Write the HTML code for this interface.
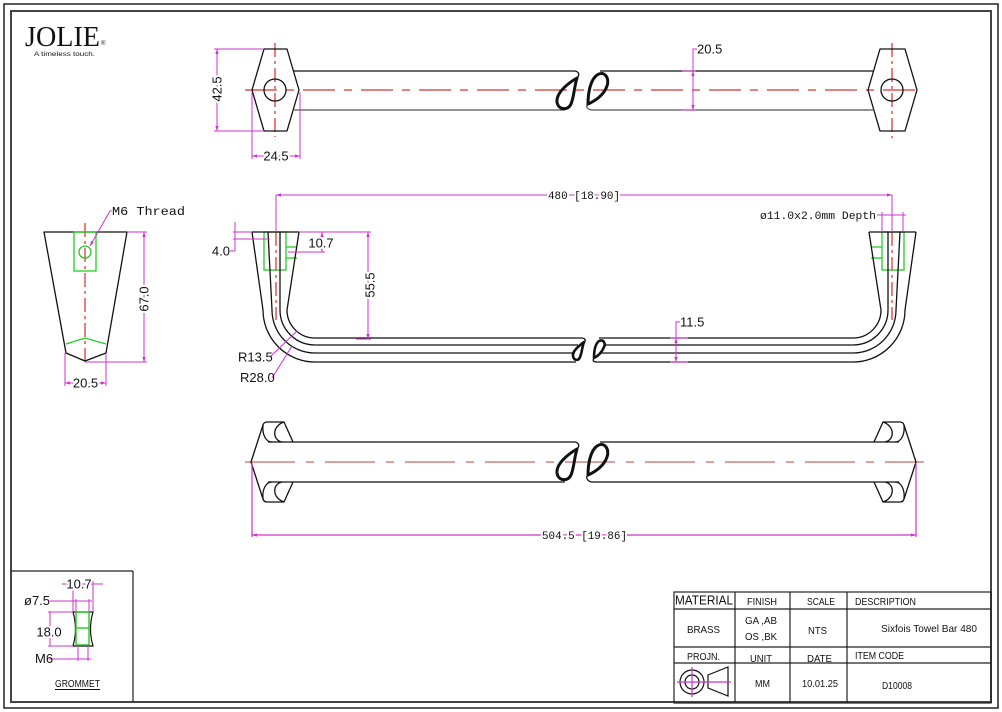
<!DOCTYPE html>
<html><head><meta charset="utf-8">
<style>
html,body{margin:0;padding:0;background:#fff;}
svg{display:block}
text{font-family:"Liberation Sans",sans-serif;fill:#111;}
.d{font-size:13px;stroke:#fff;stroke-width:4;paint-order:stroke;stroke-linejoin:round;}
.m{font-family:"Liberation Mono",monospace;font-size:11px;stroke:#fff;stroke-width:4;paint-order:stroke;}
.t{font-size:10.5px;}
</style></head><body>
<svg width="1002" height="712" viewBox="0 0 1002 712" xmlns="http://www.w3.org/2000/svg">
<defs>
<marker id="a" viewBox="0 0 6 6" refX="6" refY="3" markerWidth="5" markerHeight="5" orient="auto-start-reverse" markerUnits="userSpaceOnUse">
<path d="M0,1 L6,3 L0,5 Z" fill="#c3c"/>
</marker>
</defs>
<rect width="1002" height="712" fill="#fff"/>

<!-- frame -->
<rect x="4" y="4" width="994" height="704" fill="none" stroke="#222" stroke-width="1.5"/>
<rect x="11" y="11" width="980" height="691" fill="none" stroke="#444" stroke-width="2"/>

<!-- logo -->
<text x="25" y="46" font-family="Liberation Serif, serif" style="font-family:'Liberation Serif',serif" font-size="28" fill="#333" textLength="75" lengthAdjust="spacingAndGlyphs">JOLIE</text>
<text x="101" y="45" font-size="6" fill="#333">®</text>
<text x="34" y="56" font-size="6.5" fill="#444" textLength="61" lengthAdjust="spacingAndGlyphs">A timeless touch.</text>

<!-- ================= TOP VIEW ================= -->
<g fill="none" stroke="#cc0000" stroke-width="1">
<line x1="245" y1="90" x2="923" y2="90" stroke-dasharray="32 9 8 9"/>
<line x1="275" y1="43" x2="275" y2="137" stroke-dasharray="14 4 3 4"/>
<line x1="892" y1="43" x2="892" y2="138" stroke-dasharray="14 4 3 4"/>
</g>
<g fill="none" stroke="#111" stroke-width="1.3" stroke-linejoin="round">
<path d="M264,49 L287,49 L299,90 L287,131 L264,131 L252,90 Z"/>
<circle cx="275" cy="90" r="11"/>
<path d="M880,49 L905,49 L917,90 L905,131 L880,131 L868,90 Z"/>
<circle cx="892" cy="90" r="11"/>
<path d="M293,71 L574,71 C579,71 580,75 577,78"/>
<path d="M293,110 L565,110" stroke="#555"/>
<path d="M600,71 L874,71"/>
<path d="M588,104 C585,107 588,110 593,110 L874,110" stroke="#555"/>
</g>
<g fill="none" stroke="#111" stroke-width="3" stroke-linejoin="round">
<path d="M577,78 C570,82 556,92 557,102 C558,110 568,111 571,104 C574,97 574,88 577,78 Z"/>
<path d="M588,104 C588,94 590,80 597,75 C604,70 610,78 607,86 C604,95 595,101 588,104 Z"/>
</g>
<!-- top view dims -->
<g fill="none" stroke="#c3c" stroke-width="1">
<line x1="214" y1="49" x2="264" y2="49"/>
<line x1="214" y1="131" x2="264" y2="131"/>
<line x1="217" y1="49" x2="217" y2="131" marker-start="url(#a)" marker-end="url(#a)"/>
<line x1="252" y1="92" x2="252" y2="159"/>
<line x1="300" y1="92" x2="300" y2="159"/>
<line x1="252" y1="156" x2="300" y2="156" marker-start="url(#a)" marker-end="url(#a)"/>
<line x1="682" y1="71" x2="696" y2="71"/>
<line x1="682" y1="110" x2="696" y2="110"/>
<polyline points="697,49 693,49 693,71"/>
<line x1="693" y1="71" x2="693" y2="110" marker-start="url(#a)" marker-end="url(#a)"/>
</g>
<text class="d" transform="translate(221.5,89) rotate(-90)" text-anchor="middle">42.5</text>
<text class="d" x="276" y="160.5" text-anchor="middle">24.5</text>
<text class="d" x="697" y="53.5" font-size="12" style="stroke-width:0">20.5</text>

<!-- ================= SIDE VIEW ================= -->
<g id="brk">
<g fill="none" stroke="#cc0000" stroke-width="1">
<line x1="276" y1="232" x2="276" y2="320" stroke-dasharray="14 4 3 4"/>
</g>
<g fill="none" stroke="#22cc22" stroke-width="1.3">
<rect x="264" y="232" width="22" height="38"/>
<line x1="286" y1="247" x2="297" y2="247"/>
<line x1="286" y1="258" x2="297" y2="258"/>
</g>
<g fill="none" stroke="#111" stroke-width="1.3">
<line x1="252" y1="232" x2="299" y2="232"/>
<path d="M252,232 L263,310 A52,52 0 0 0 315,362"/>
<path d="M268,232 L272,310 A43,43 0 0 0 315,353"/>
<path d="M280,232 L280,310 A35,35 0 0 0 315,345"/>
<path d="M299,232 L287,310 A28,28 0 0 0 315,338"/>
</g>
</g>
<use href="#brk" transform="matrix(-1,0,0,1,1168,0)"/>
<g fill="none" stroke="#111" stroke-width="1.3">
<path d="M315,338 L581,338 C586,338 586,341 584,342"/>
<path d="M315,345 L578,345"/>
<path d="M315,353 L575,353"/>
<path d="M315,362 L576,362"/>
<path d="M599,338 L853,338"/>
<path d="M604,345 L853,345"/>
<path d="M601,353 L853,353"/>
<path d="M594,358 C592,361 594,362 597,362 L853,362"/>
</g>
<g fill="none" stroke="#111" stroke-width="2.6" stroke-linejoin="round">
<path d="M584,342 C580,345 572,351 573,356 C574,361 579,361 580,357 C582,353 582,347 584,342 Z"/>
<path d="M594,358 C594,352 595,344 599,341 C603,339 606,343 604,347 C602,352 598,356 594,358 Z"/>
</g>
<!-- side view dims -->
<g fill="none" stroke="#c3c" stroke-width="1">
<line x1="276" y1="195" x2="276" y2="232"/>
<line x1="892" y1="195" x2="892" y2="232"/>
<line x1="276" y1="195" x2="892" y2="195" marker-start="url(#a)" marker-end="url(#a)"/>
<line x1="877" y1="215" x2="906" y2="215"/>
<line x1="882" y1="212" x2="882" y2="232"/>
<line x1="903" y1="212" x2="903" y2="232"/>
<line x1="233" y1="232" x2="252" y2="232"/>
<line x1="233" y1="239" x2="270" y2="239"/>
<line x1="235" y1="222" x2="235" y2="251"/>
<line x1="230" y1="251" x2="235" y2="251"/>
<line x1="299" y1="232" x2="371" y2="232"/>
<line x1="288" y1="252" x2="325" y2="252"/>
<line x1="322" y1="232" x2="322" y2="252" marker-start="url(#a)" marker-end="url(#a)"/>
<line x1="356" y1="339" x2="371" y2="339"/>
<line x1="368" y1="232" x2="368" y2="339" marker-start="url(#a)" marker-end="url(#a)"/>
<polyline points="270,357 297,331"/>
<polyline points="272,378 292,346"/>
<line x1="670" y1="338" x2="688" y2="338"/>
<line x1="670" y1="362" x2="688" y2="362"/>
<polyline points="680,322 676,322 676,338"/>
<line x1="676" y1="338" x2="676" y2="362" marker-start="url(#a)" marker-end="url(#a)"/>
</g>
<text class="m" x="584" y="199" text-anchor="middle" textLength="72" lengthAdjust="spacingAndGlyphs">480 [18.90]</text>
<text class="m" x="760" y="219" textLength="116" lengthAdjust="spacingAndGlyphs" style="stroke-width:0">ø11.0x2.0mm Depth</text>
<text class="d" x="230" y="255.5" text-anchor="end" font-size="12" style="stroke-width:0">4.0</text>
<text class="d" x="321" y="247.5" text-anchor="middle" font-size="12">10.7</text>
<text class="d" transform="translate(374.5,285) rotate(-90)" text-anchor="middle">55.5</text>
<text class="d" x="238" y="361.5" font-size="12" style="stroke-width:0">R13.5</text>
<text class="d" x="240" y="382" font-size="12" style="stroke-width:0">R28.0</text>
<text class="d" x="680" y="326.5" font-size="12" style="stroke-width:0">11.5</text>

<!-- ================= LEFT SECTION ================= -->
<g fill="none" stroke="#cc0000" stroke-width="1">
<line x1="85" y1="223" x2="85" y2="361" stroke-dasharray="14 4 3 4"/>
</g>
<g fill="none" stroke="#111" stroke-width="1.3" stroke-linejoin="round">
<path d="M44,232 L127,232 L106,353 L85,361 L66,353 Z"/>
</g>
<g fill="none" stroke="#22cc22" stroke-width="1.3">
<rect x="74" y="232" width="22" height="39"/>
<circle cx="85" cy="252" r="6"/>
<polyline points="66,344 85,338 106,344"/>
</g>
<g fill="none" stroke="#c3c" stroke-width="1">
<polyline points="112,211 110,211 90,246" marker-end="url(#a)"/>
<line x1="127" y1="232" x2="147" y2="232"/>
<line x1="85" y1="362" x2="147" y2="362"/>
<line x1="144" y1="232" x2="144" y2="362" marker-start="url(#a)" marker-end="url(#a)"/>
<line x1="65" y1="353" x2="65" y2="386"/>
<line x1="106" y1="353" x2="106" y2="386"/>
<line x1="65" y1="383" x2="106" y2="383" marker-start="url(#a)" marker-end="url(#a)"/>
</g>
<text x="112" y="215" style="font-family:'Liberation Mono',monospace" font-size="12" textLength="73" lengthAdjust="spacingAndGlyphs">M6 Thread</text>
<text class="d" transform="translate(148.5,299) rotate(-90)" text-anchor="middle">67.0</text>
<text class="d" x="85.5" y="387.5" text-anchor="middle">20.5</text>

<!-- ================= BOTTOM VIEW ================= -->
<line x1="245" y1="462" x2="924" y2="462" stroke="#cc6666" stroke-width="1.2" stroke-dasharray="50 11 8 11"/>
<g id="cap" fill="none" stroke="#111" stroke-width="1.3" stroke-linejoin="round">
<path d="M251,462 L263,425 Q264,422 267,422 L284,422 L293,442"/>
<path d="M284,422 C272,426 272,440 282,442"/>
<path d="M263,425 C262,435 266,442 272,442"/>
<path d="M251,462 L263,499 Q264,502 267,502 L284,502 L293,482"/>
<path d="M284,502 C272,498 272,484 282,482"/>
<path d="M263,499 C262,489 266,482 272,482"/>
</g>
<use href="#cap" transform="matrix(-1,0,0,1,1167,0)"/>
<g transform="translate(0,371)">
<g fill="none" stroke="#111" stroke-width="1.3">
<path d="M268,71 L574,71 C579,71 580,75 577,78"/>
<path d="M268,111 L565,111"/>
<path d="M600,71 L899,71"/>
<path d="M588,104 C585,107 588,111 593,111 L899,111"/>
</g>
<g fill="none" stroke="#111" stroke-width="3" stroke-linejoin="round">
<path d="M577,78 C570,82 556,92 557,102 C558,110 568,111 571,104 C574,97 574,88 577,78 Z"/>
<path d="M588,104 C588,94 590,80 597,75 C604,70 610,78 607,86 C604,95 595,101 588,104 Z"/>
</g>
</g>
<g fill="none" stroke="#c3c" stroke-width="1.2">
<line x1="252" y1="463" x2="252" y2="537"/>
<line x1="916" y1="463" x2="916" y2="537"/>
<line x1="252" y1="535" x2="916" y2="535" marker-start="url(#a)" marker-end="url(#a)"/>
</g>
<text class="m" x="584.5" y="539" text-anchor="middle" textLength="85" lengthAdjust="spacingAndGlyphs">504.5 [19.86]</text>

<!-- ================= GROMMET ================= -->
<g fill="none" stroke="#222" stroke-width="1.2">
<line x1="11" y1="571" x2="133" y2="571"/>
<line x1="133" y1="571" x2="133" y2="702"/>
</g>
<path d="M73,612 L93,612 Q88,629 93,646 L73,646 Q78,629 73,612 Z" fill="none" stroke="#111" stroke-width="1.2"/>
<g fill="none" stroke="#22cc22" stroke-width="1.4">
<rect x="76" y="612" width="13" height="33"/>
<line x1="76" y1="628" x2="89" y2="628"/>
</g>
<g fill="none" stroke="#c3c" stroke-width="1">
<line x1="62" y1="584" x2="103" y2="584"/>
<line x1="73" y1="581" x2="73" y2="612"/>
<line x1="93" y1="581" x2="93" y2="612"/>
<line x1="50" y1="601" x2="92" y2="601"/>
<line x1="76" y1="599" x2="76" y2="612"/>
<line x1="89" y1="599" x2="89" y2="612"/>
<line x1="48" y1="612" x2="73" y2="612"/>
<line x1="48" y1="646" x2="73" y2="646"/>
<line x1="50" y1="612" x2="50" y2="646"/>
<line x1="49" y1="659" x2="91" y2="659"/>
<line x1="78" y1="646" x2="78" y2="661"/>
<line x1="88" y1="646" x2="88" y2="661"/>
</g>
<text class="d" x="79" y="588.5" text-anchor="middle" font-size="12">10.7</text>
<text class="d" x="24" y="605" font-size="12" textLength="26" style="stroke-width:0">ø7.5</text>
<text class="d" x="49" y="636.5" text-anchor="middle" font-size="12">18.0</text>
<text class="d" x="35" y="663" font-size="12" style="stroke-width:0">M6</text>
<text x="55" y="687" font-size="10" textLength="45" lengthAdjust="spacingAndGlyphs">GROMMET</text>
<line x1="55" y1="689.5" x2="100" y2="689.5" stroke="#111" stroke-width="1"/>

<!-- ================= TITLE BLOCK ================= -->
<g fill="none" stroke="#222" stroke-width="1.2">
<rect x="674" y="592" width="317" height="111"/>
<line x1="674" y1="609" x2="991" y2="609"/>
<line x1="674" y1="647" x2="991" y2="647"/>
<line x1="674" y1="663" x2="991" y2="663"/>
<line x1="735" y1="592" x2="735" y2="703"/>
<line x1="790" y1="592" x2="790" y2="703"/>
<line x1="847" y1="592" x2="847" y2="703"/>
</g>
<text x="675" y="604.5" font-size="12.5" textLength="58" lengthAdjust="spacingAndGlyphs">MATERIAL</text>
<text class="t" x="747" y="605" textLength="30" lengthAdjust="spacingAndGlyphs">FINISH</text>
<text class="t" x="807" y="605" textLength="28" lengthAdjust="spacingAndGlyphs">SCALE</text>
<text class="t" x="855" y="605" textLength="61" lengthAdjust="spacingAndGlyphs">DESCRIPTION</text>
<text class="t" x="687" y="633" textLength="33" lengthAdjust="spacingAndGlyphs">BRASS</text>
<text class="t" x="745" y="624" textLength="32" lengthAdjust="spacingAndGlyphs">GA ,AB</text>
<text class="t" x="745" y="640" textLength="32" lengthAdjust="spacingAndGlyphs">OS ,BK</text>
<text class="t" x="808" y="634" textLength="19" lengthAdjust="spacingAndGlyphs">NTS</text>
<text class="t" x="881" y="632" textLength="96" lengthAdjust="spacingAndGlyphs">Sixfois Towel Bar 480</text>
<text class="t" x="687" y="660" textLength="33" lengthAdjust="spacingAndGlyphs">PROJN.</text>
<text class="t" x="750" y="662" textLength="22" lengthAdjust="spacingAndGlyphs">UNIT</text>
<text class="t" x="807" y="662" textLength="25" lengthAdjust="spacingAndGlyphs">DATE</text>
<text class="t" x="855" y="659" textLength="49" lengthAdjust="spacingAndGlyphs">ITEM CODE</text>
<text class="t" x="755" y="687" textLength="15" lengthAdjust="spacingAndGlyphs">MM</text>
<text class="t" x="802" y="687" textLength="36" lengthAdjust="spacingAndGlyphs">10.01.25</text>
<text class="t" x="882" y="689" textLength="30" lengthAdjust="spacingAndGlyphs">D10008</text>
<!-- projection symbol -->
<g fill="none" stroke="#111" stroke-width="1.2">
<circle cx="692" cy="682" r="12"/>
<circle cx="692" cy="682" r="7"/>
<path d="M708,675 L728,667 L728,696 L708,688 Z"/>
</g>
<g stroke="#c3c" stroke-width="1.2">
<line x1="677" y1="682" x2="731" y2="682"/>
<line x1="692" y1="667" x2="692" y2="697"/>
</g>
</svg>
</body></html>
